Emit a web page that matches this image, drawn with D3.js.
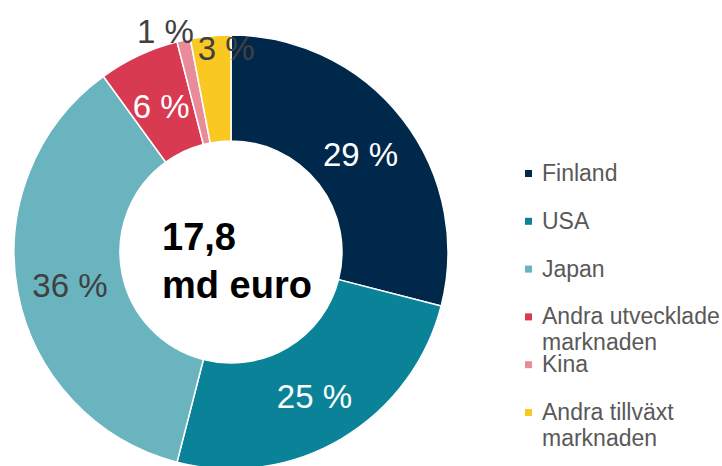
<!DOCTYPE html>
<html>
<head>
<meta charset="utf-8">
<script src="https://cdn.jsdelivr.net/npm/d3@7"></script>
<style>
  html, body { margin: 0; padding: 0; background: #fff; }
  svg { display: block; font-family: "Liberation Sans", Arial, sans-serif; }
</style>
</head>
<body>
<svg id="chart"></svg>
<script>
// data
const categories = ["Finland", "USA", "Japan", "Andra utvecklade marknaden", "Kina", "Andra tillväxt marknaden"];
const legendLines = [["Finland"], ["USA"], ["Japan"], ["Andra utvecklade", "marknaden"], ["Kina"], ["Andra tillväxt", "marknaden"]];
const shares = [29, 25, 36, 6, 1, 3];
const colors = ["#00284a", "#0a8399", "#6ab4c0", "#d83a51", "#e98b99", "#f9c922"];
const labelColors = ["#fff", "#fff", "#404040", "#fff", "#404040", "#404040"];
const centerLines = ["17,8", "md euro"];

const width = 722, height = 466;
const cx = 231, cy = 252;
const outerR = 217, innerR = 111;

const svg = d3.select('#chart').attr('width', width).attr('height', height);

const pie = d3.pie().sort(null).value(d => d.value);
const arc = d3.arc().innerRadius(innerR).outerRadius(outerR);
const midArc = d3.arc().innerRadius(164).outerRadius(164);
const farArc = d3.arc().innerRadius(200).outerRadius(200);

const data = categories.map((c, i) => ({ name: c, value: shares[i], i }));
const arcs = pie(data);

const g = svg.append('g').attr('transform', `translate(${cx},${cy})`);

g.selectAll('path')
  .data(arcs)
  .join('path')
    .attr('d', arc)
    .attr('fill', d => colors[d.data.i])
    .attr('stroke', '#fff')
    .attr('stroke-width', 1.5);

// small slices get their labels pushed outside the ring
const smallShift = { "Kina": [-22, -25], "Andra tillväxt marknaden": [14, -4] };

g.selectAll('text.pct')
  .data(arcs)
  .join('text')
    .attr('class', 'pct')
    .attr('transform', d => {
      const s = smallShift[d.data.name];
      if (s) {
        const [x, y] = farArc.centroid(d);
        return `translate(${x + s[0]},${y + s[1]})`;
      }
      const [x, y] = midArc.centroid(d);
      return `translate(${x},${y + 3})`;
    })
    .attr('text-anchor', 'middle')
    .attr('dy', '0.35em')
    .attr('font-size', 33)
    .attr('fill', d => labelColors[d.data.i])
    .text(d => d.data.value + ' %');

// centre text
g.selectAll('text.center')
  .data(centerLines)
  .join('text')
    .attr('class', 'center')
    .attr('x', -69)
    .attr('y', (d, i) => -2 + i * 48)
    .attr('font-size', 38)
    .attr('font-weight', 'bold')
    .attr('fill', '#000')
    .text(d => d);

// legend
const ly = d3.scaleLinear().domain([0, 5]).range([181, 420]);
const legend = svg.append('g');
const items = legend.selectAll('g')
  .data(legendLines)
  .join('g')
    .attr('transform', (d, i) => `translate(525,${ly(i)})`);

items.append('rect')
  .attr('x', 0)
  .attr('y', -11)
  .attr('width', 7)
  .attr('height', 7)
  .attr('fill', (d, i) => colors[i]);

items.append('text')
  .attr('x', 17)
  .attr('font-size', 23)
  .attr('fill', '#595959')
  .selectAll('tspan')
  .data(d => d)
  .join('tspan')
    .attr('x', 17)
    .attr('dy', (d, i) => i === 0 ? 0 : 26)
    .text(d => d);
</script>
</body>
</html>
